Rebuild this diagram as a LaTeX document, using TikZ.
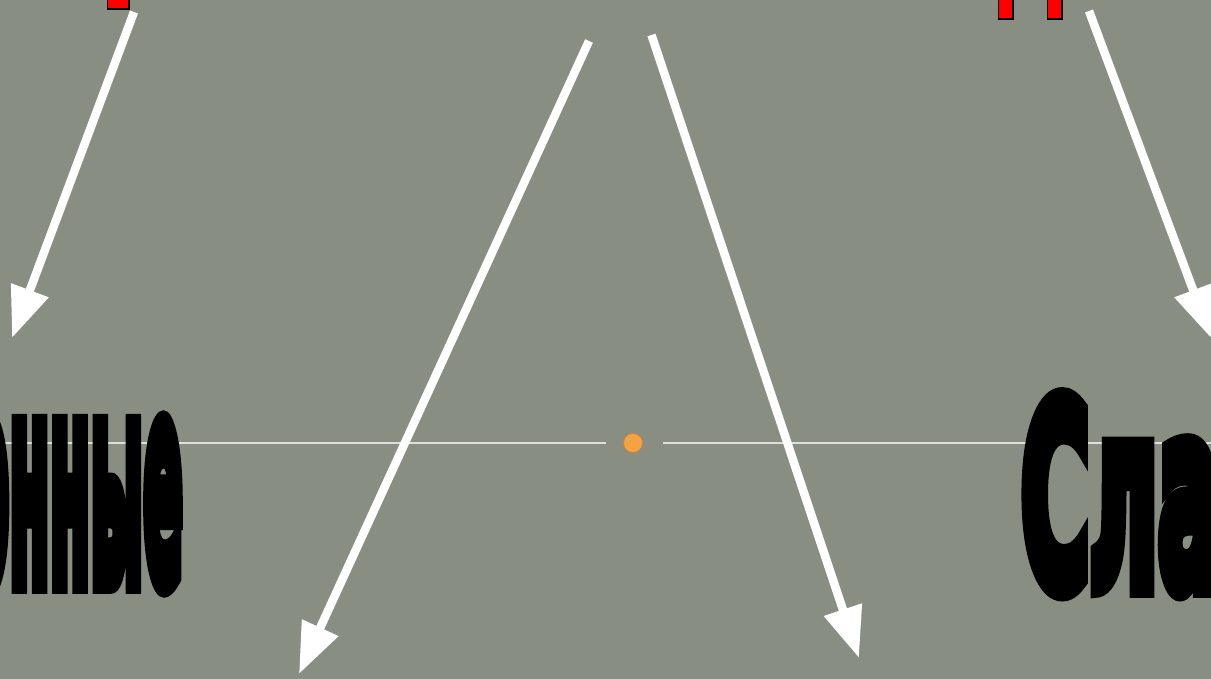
\documentclass[tikz,border=0pt]{standalone}
\usepackage{fontspec}
\usetikzlibrary{arrows.meta}
\newfontfamily\heavyfont{DejaVu Sans Bold}[FakeBold=9]
\definecolor{bg}{RGB}{137,142,131}
\definecolor{hl}{RGB}{222,222,218}
\definecolor{dotc}{RGB}{244,162,66}
\definecolor{dotd}{RGB}{214,130,50}
\tikzset{
  warrow/.style={draw=white, line width=8.5pt, -{Triangle[length=51pt,width=38pt]}},
  hline/.style={draw=hl, line width=1.6pt},
  word/.style={inner sep=0pt, outer sep=0pt, text=black, font=\heavyfont\fontsize{100pt}{100pt}\selectfont},
  redbar/.style={fill=red, draw=black, line width=1.2pt}
}
\begin{document}
\begin{tikzpicture}[x=1pt,y=-1pt]
\useasboundingbox (0,0) rectangle (1211,679);
\clip (0,0) rectangle (1211,679);
\fill[bg] (0,0) rectangle (1211,679);
% red fragments of letters above the frame
\path[redbar] (107.5,-5) rectangle (129,9);
\path[redbar] (998.5,-5) rectangle (1013,19);
\path[redbar] (1047.5,-5) rectangle (1062,19);
% horizontal line with dot
\coordinate (hl1) at (0,443);
\coordinate (hl2) at (606,443);
\coordinate (hl3) at (663,443);
\coordinate (hl4) at (1211,443);
\draw[hline] (hl1) -- (hl2);
\draw[hline] (hl3) -- (hl4);
\node[circle, fill=dotc, draw=dotd, line width=0.6pt, minimum size=19pt, inner sep=0pt] (dot) at (633,443) {};
% words
\node[word, anchor=north east] (w1) at (183,423) {\resizebox{214pt}{158pt}{онные}};
\node[word, anchor=north west] (w2) at (1021,398.5) {\resizebox{200pt}{188pt}{Сла}};
% arrows
\coordinate (a1s) at (134,12);  \coordinate (a1e) at (12,338);
\coordinate (a2s) at (589,41);  \coordinate (a2e) at (299,674);
\coordinate (a3s) at (651.5,35); \coordinate (a3e) at (859,658);
\coordinate (a4s) at (1089,11); \coordinate (a4e) at (1211,338);
\draw[warrow] (a1s) -- (a1e);
\draw[warrow] (a2s) -- (a2e);
\draw[warrow] (a3s) -- (a3e);
\draw[warrow] (a4s) -- (a4e);
\end{tikzpicture}
\end{document}
